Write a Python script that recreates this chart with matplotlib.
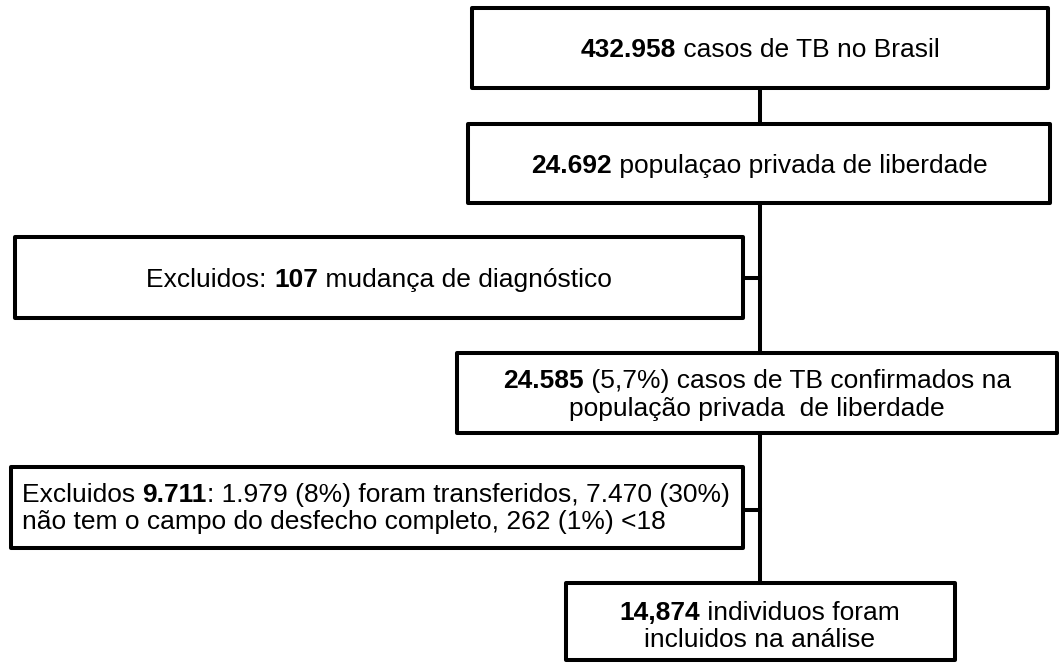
import matplotlib
matplotlib.use("Agg")
import matplotlib.pyplot as plt
from matplotlib.patches import Rectangle

# Figure in pixel units so the layout can be read straight off the reference
W, H = 1059, 664
fig = plt.figure(figsize=(W / 100, H / 100), dpi=100)
ax = fig.add_axes([0, 0, 1, 1])
ax.set_xlim(0, W)
ax.set_ylim(H, 0)
ax.axis("off")

FONT = "Liberation Sans"
FS = 19
LW = 2.9

# Data: counts shown in the flowchart
total_cases = "432.958"
prison_pop = "24.692"
excl_diag = "107"
confirmed = "24.585"
excl_outcome = "9.711"
included = "14,874"

# Text of every box, as lines made of (string, weight) pieces
box_texts = [
    [[(total_cases, "bold"), (" casos de TB no Brasil", "normal")]],
    [[(prison_pop, "bold"), (" populaçao privada de liberdade", "normal")]],
    [[("Excluidos: ", "normal"), (excl_diag, "bold"), (" mudança de diagnóstico", "normal")]],
    [[(confirmed, "bold"), (" (5,7%) casos de TB confirmados na", "normal")],
     [("população privada  de liberdade", "normal")]],
    [[("Excluidos ", "normal"), (excl_outcome, "bold"),
      (": 1.979 (8%) foram transferidos, 7.470 (30%)", "normal")],
     [("não tem o campo do desfecho completo, 262 (1%) <18", "normal")]],
    [[(included, "bold"), (" individuos foram", "normal")],
     [("incluidos na análise", "normal")]],
]

# Layout: box edges (x0, y0, x1, y1), text alignment, text x, baselines
box_edges = [
    (472, 8, 1048, 88),
    (468, 124, 1050, 203),
    (15, 237, 743, 318),
    (457, 353, 1057, 433),
    (11, 467, 743, 548),
    (566, 583, 955, 660),
]
text_align = ["center", "center", "center", "center", "left", "center"]
text_x = [760, 759, 379, 757, 22, 760]
baselines = [[57], [173], [287], [388, 416], [502, 529], [620, 647]]

trunk_x = 760
side_links = [(743, 278), (743, 510)]

renderer = fig.canvas.get_renderer()


def text_width(s, weight):
    """Advance width of s in pixels, trailing spaces included."""
    t = ax.text(0, 0, "|" + s + "|", fontsize=FS, fontweight=weight, family=FONT)
    w = t.get_window_extent(renderer).width
    t.remove()
    t = ax.text(0, 0, "||", fontsize=FS, fontweight=weight, family=FONT)
    w0 = t.get_window_extent(renderer).width
    t.remove()
    return w - w0


def draw_line(parts, x, y, align):
    widths = [text_width(s, w) for s, w in parts]
    start = x - sum(widths) / 2 if align == "center" else x
    for (s, w), wd in zip(parts, widths):
        ax.text(start, y, s, fontsize=FS, fontweight=w, family=FONT,
                ha="left", va="baseline", color="black", zorder=4)
        start += wd


# Vertical trunk and side connectors
ax.plot([trunk_x, trunk_x], [box_edges[0][3], box_edges[5][1]],
        color="black", lw=LW, zorder=1)
for x, y in side_links:
    ax.plot([x, trunk_x], [y, y], color="black", lw=LW, zorder=1)

# Boxes and their texts
for (x0, y0, x1, y1), lines, align, tx, bls in zip(box_edges, box_texts,
                                                   text_align, text_x, baselines):
    ax.add_patch(Rectangle((x0, y0), x1 - x0, y1 - y0, facecolor="white",
                           edgecolor="black", lw=LW, joinstyle="round", zorder=3))
    for parts, y in zip(lines, bls):
        draw_line(parts, tx, y, align)

fig.savefig("out.png", dpi=100)
